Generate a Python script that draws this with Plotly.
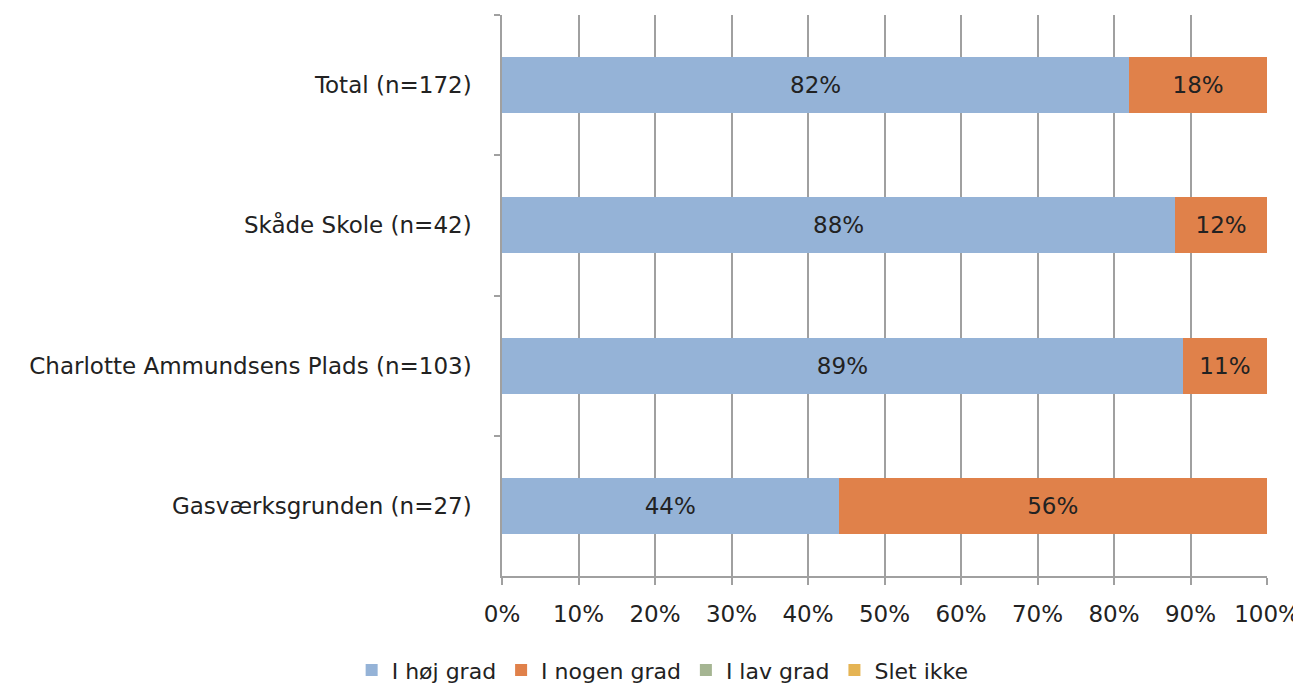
import plotly.graph_objects as go

# categories top to bottom
categories = ["Total (n=172)", "Skåde Skole (n=42)",
              "Charlotte Ammundsens Plads (n=103)", "Gasværksgrunden (n=27)"]
series_names = ["I høj grad", "I nogen grad", "I lav grad", "Slet ikke"]
hoej_grad = [82, 88, 89, 44]
nogen_grad = [18, 12, 11, 56]
lav_grad = [0, 0, 0, 0]
slet_ikke = [0, 0, 0, 0]
colors = ["#95B3D7", "#E0814A", "#A5B592", "#E5B454"]

fig = go.Figure()
for name, vals, col in zip(series_names, [hoej_grad, nogen_grad, lav_grad, slet_ikke], colors):
    fig.add_trace(go.Bar(
        y=categories, x=[v / 100 for v in vals],
        orientation="h", name=name,
        marker=dict(color=col, line=dict(width=0)),
        text=[f"{v}%" if v > 0 else "" for v in vals],
        textposition="inside", insidetextanchor="middle",
        textfont=dict(color="#222222", size=23),
        width=0.4,
    ))

# page body has an 8px margin, so the figure is sized to fit the window
fig.update_layout(
    barmode="stack",
    width=1293, height=683,
    plot_bgcolor="white", paper_bgcolor="white",
    font=dict(family="DejaVu Sans, sans-serif", size=23, color="#222222"),
    margin=dict(l=494, r=34, t=7, b=115, autoexpand=False),
    legend=dict(orientation="h", x=0.21, xanchor="center", y=-0.168, yanchor="middle",
                font=dict(size=22), traceorder="normal"),
    showlegend=True,
)
fig.update_xaxes(
    range=[0, 1], tickformat=".0%", dtick=0.1,
    showgrid=True, gridcolor="#A0A0A0", gridwidth=1.5,
    showline=True, linecolor="#A0A0A0", linewidth=1.5,
    ticks="outside", ticklen=7, tickcolor="#A0A0A0", tickwidth=1.5,
    zeroline=False, ticklabelstandoff=10, automargin=False,
)
fig.update_yaxes(
    autorange="reversed", tickson="boundaries",
    showline=True, linecolor="#A0A0A0", linewidth=1.5,
    ticks="outside", ticklen=6, tickcolor="#A0A0A0", tickwidth=1.5,
    showgrid=False, ticklabelstandoff=24, automargin=False,
)

fig.write_html("out.html")
